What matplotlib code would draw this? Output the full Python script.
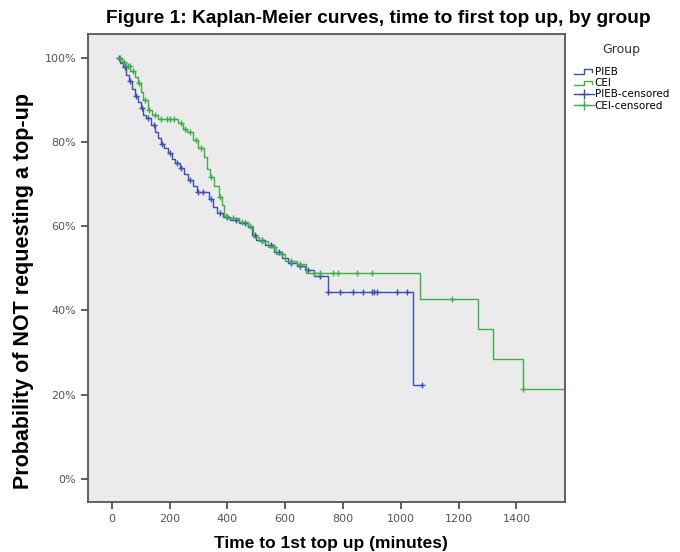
import numpy as np
import matplotlib.pyplot as plt
from matplotlib.lines import Line2D
from matplotlib.legend_handler import HandlerBase
from matplotlib.ticker import PercentFormatter

# Curvas de Kaplan-Meier (tempo em minutos, sobrevivência em %)
pieb_t = [20, 30, 40, 50, 60, 70, 80, 90, 100, 110, 120, 135, 150, 160, 170, 180,
          195, 210, 220, 235, 250, 265, 280, 295, 335, 350, 365, 385, 410, 440, 470,
          485, 500, 530, 560, 590, 610, 640, 670, 700, 747, 1042]
pieb_s = [100, 98.9, 97.8, 96.0, 94.5, 92.5, 91.0, 89.5, 88.0, 86.5, 85.8, 84.0, 82.5,
          81.0, 79.5, 78.5, 77.4, 76.0, 75.0, 73.8, 72.5, 71.0, 69.5, 68.2, 66.5, 64.5,
          63.2, 62.2, 61.5, 60.8, 59.8, 58.0, 56.8, 55.5, 54.0, 52.5, 51.3, 50.5, 49.5,
          48.3, 44.4, 22.2]
pieb_cens = [25, 45, 65, 85, 105, 125, 145, 175, 200, 225, 240, 270, 300, 315, 345,
             375, 400, 430, 460, 495, 520, 550, 580, 620, 650, 680, 720, 747, 788, 834,
             868, 899, 906, 916, 986, 1021, 1072]

cei_t = [20, 35, 50, 65, 80, 90, 100, 110, 125, 140, 160, 230, 245, 260, 280, 300,
         320, 330, 340, 355, 370, 380, 390, 400, 440, 470, 490, 510, 540, 570, 600,
         640, 673, 1066, 1266, 1318, 1422]
cei_s = [100, 99.0, 98.0, 97.0, 95.5, 94.0, 92.0, 90.0, 87.6, 86.5, 85.4, 84.5, 83.0,
         82.4, 80.5, 78.5, 76.5, 73.5, 71.7, 69.5, 67.0, 65.0, 62.5, 62.0, 61.0, 60.0,
         57.5, 56.5, 55.0, 53.5, 51.8, 51.0, 48.9, 42.8, 35.6, 28.5, 21.4]
cei_cens = [28, 42, 55, 62, 75, 95, 115, 130, 150, 170, 190, 200, 215, 240, 255, 270,
            290, 310, 345, 375, 395, 420, 450, 480, 520, 560, 590, 620, 650, 700, 720,
            765, 782, 847, 899, 1176, 1422]

grupos = ['PIEB', 'CEI']
cores = ['#3d4fae', '#3fae48']
x_fim = 1568


def valor_km(t, s, tc):
    # valor da curva em degrau no instante tc
    idx = np.searchsorted(t, tc, side='right') - 1
    return np.array(s)[np.clip(idx, 0, None)]


class HandlerDegrau(HandlerBase):
    # símbolo em degrau para as curvas na legenda
    def create_artists(self, legend, orig_handle, xdescent, ydescent, width,
                       height, fontsize, trans):
        x = np.array([0, 0.5, 0.5, 0.9, 0.9]) * width - xdescent
        y = np.array([0.15, 0.15, 0.75, 0.75, 0.35]) * height - ydescent
        linha = Line2D(x, y, color=orig_handle.get_color(), lw=1, transform=trans)
        return [linha]


fig = plt.figure(figsize=(6.8, 5.52), dpi=100)
ax = fig.add_axes([0.1294, 0.0906, 0.7015, 0.848])
ax.set_facecolor('#ebebeb')

for t, s, tc, cor in [(pieb_t, pieb_s, pieb_cens, cores[0]),
                      (cei_t, cei_s, cei_cens, cores[1])]:
    t = np.array(t, dtype=float)
    s = np.array(s, dtype=float)
    tt = np.append(t, max(tc[-1], t[-1]) if cor == cores[0] else x_fim)
    ss = np.append(s, s[-1])
    ax.step(tt, ss / 100, where='post', color=cor, lw=1.0)
    tc = np.array(tc, dtype=float)
    ax.plot(tc, valor_km(t, s, tc) / 100, '+', color=cor, ms=5, mew=1.0)

ax.set_xlim(-82, x_fim)
ax.set_ylim(-0.055, 1.057)
ax.set_xticks(np.arange(0, 1401, 200))
ax.set_yticks(np.arange(0, 1.01, 0.2))
ax.yaxis.set_major_formatter(PercentFormatter(1.0, decimals=0))
ax.tick_params(direction='out', length=5, width=1.2, colors='#444444',
               labelsize=8, labelcolor='#555555')
for lado in ax.spines.values():
    lado.set_color('#555555')
    lado.set_linewidth(1.3)

fig.text(0.487, 0.016, 'Time to 1st top up (minutes)', ha='center', va='center',
         fontsize=12.5, fontweight='bold', family='Liberation Sans')
fig.text(0.034, 0.473, 'Probability of NOT requesting a top-up', ha='center',
         va='center', rotation=90, fontsize=15.5, fontweight='bold',
         family='Liberation Sans')
fig.text(0.556, 0.967, 'Figure 1: Kaplan-Meier curves, time to first top up, by group',
         ha='center', va='center', fontsize=13.8, fontweight='bold',
         family='Liberation Sans')

# Legenda
handles = [Line2D([], [], color=cores[0], lw=1),
           Line2D([], [], color=cores[1], lw=1),
           Line2D([], [], color=cores[0], lw=1, marker='+', ms=7),
           Line2D([], [], color=cores[1], lw=1, marker='+', ms=7)]
rotulos = ['PIEB', 'CEI', 'PIEB-censored', 'CEI-censored']
leg = fig.legend(handles, rotulos, title='Group', loc='upper left',
                 bbox_to_anchor=(0.838, 0.93), frameon=False, fontsize=7.5,
                 title_fontsize=9, handlelength=1.9, handletextpad=0.1,
                 labelspacing=0.12, borderaxespad=0,
                 handler_map={handles[0]: HandlerDegrau(),
                              handles[1]: HandlerDegrau()})
leg.get_title().set_color('#333333')
leg._legend_box.sep = 8

fig.savefig('out.png', dpi=100)
